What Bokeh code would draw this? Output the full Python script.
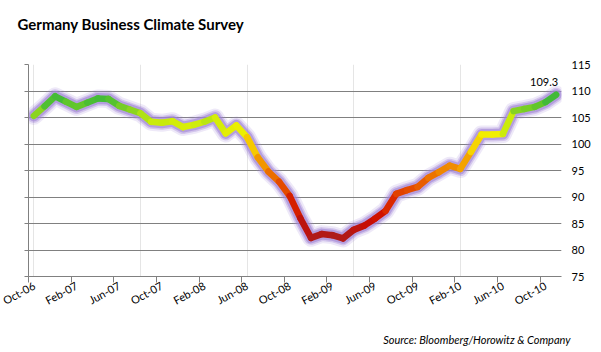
import pandas as pd
from bokeh.plotting import figure
from bokeh.models import LinearAxis, FixedTicker, Grid, Range1d, Title, ColumnDataSource
from bokeh.core.properties import value
from bokeh.embed import file_html
from bokeh.resources import INLINE

# ---- data ----
months = [p.strftime("%b-%y") for p in pd.period_range("2006-10", "2010-11", freq="M")]
ifo = [105.3, 107.1, 109.0,
       108.0, 107.0, 107.8, 108.6, 108.5, 107.2, 106.5, 105.8, 104.2, 104.0, 104.3, 103.2,
       103.6, 104.2, 105.0, 102.0, 103.5, 101.3, 97.5, 94.8, 92.9, 90.2, 86.0, 82.3,
       83.0, 82.8, 82.2, 83.8, 84.6, 85.9, 87.4, 90.6, 91.3, 91.9, 93.6, 94.7,
       95.9, 95.3, 98.5, 101.8, 101.8, 101.9, 106.2, 106.6, 107.0, 107.9, 109.3]
tick_labels = ["Oct-06", "Feb-07", "Jun-07", "Oct-07", "Feb-08", "Jun-08", "Oct-08",
               "Feb-09", "Jun-09", "Oct-09", "Feb-10", "Jun-10", "Oct-10"]
y_ticks = [75, 80, 85, 90, 95, 100, 105, 110, 115]
last_label = "109.3"
title_text = "Germany Business Climate Survey"
source_text = "Source: Bloomberg/Horowitz & Company"

x = list(range(len(ifo)))
x_lo, x_hi = -0.5, len(ifo) - 0.5

# colour scale by value
stops = [(82, (170, 30, 30)), (86, (204, 10, 0)), (90, (222, 50, 0)), (94, (236, 112, 0)),
         (97, (244, 165, 0)), (100, (246, 210, 0)), (102, (242, 240, 0)),
         (104, (205, 236, 10)), (106, (145, 215, 30)), (108, (80, 192, 48)), (109.5, (46, 178, 70))]

def col(v):
    if v <= stops[0][0]:
        c = stops[0][1]
    elif v >= stops[-1][0]:
        c = stops[-1][1]
    else:
        for (a, ca), (b, cb) in zip(stops[:-1], stops[1:]):
            if a <= v <= b:
                t = (v - a) / (b - a)
                c = tuple(ca[i] + (cb[i] - ca[i]) * t for i in range(3))
                break
    return "#%02x%02x%02x" % tuple(int(round(k)) for k in c)

seg = ColumnDataSource(dict(
    x0=x[:-1], y0=ifo[:-1], x1=x[1:], y1=ifo[1:],
    c=[col((a + b) / 2) for a, b in zip(ifo[:-1], ifo[1:])]))

FONT = "Lato"
GRID = "#808080"

p = figure(width=601, height=352, output_backend="svg", toolbar_location=None,
           x_range=Range1d(x_lo, x_hi), y_range=Range1d(75, 115),
           x_axis_location=None, y_axis_location=None,
           min_border_left=28, min_border_right=40, min_border_top=64, min_border_bottom=76,
           outline_line_color=None, background_fill_color="white", border_fill_color="white")

def spacer(size, at):
    # blank white axis used only to reserve space in a side panel
    return LinearAxis(ticker=FixedTicker(ticks=[at], minor_ticks=[]), axis_line_color=None,
                      major_tick_line_color="white", minor_tick_line_color=None,
                      major_tick_out=size, major_tick_in=0, minor_tick_out=0, minor_tick_in=0,
                      major_label_standoff=0, major_label_text_font_size="0px",
                      major_label_overrides={at: ""})

p.add_layout(spacer(25, x_hi), "above")

p.title.text = title_text
p.title.text_font = FONT
p.title.text_font_size = "15px"
p.title.text_font_style = "bold"
p.title.text_color = "#000000"
p.title.align = "left"
p.title.vertical_align = "top"
p.title.offset = -11
p.title.standoff = 10

p.add_layout(Grid(dimension=1, ticker=FixedTicker(ticks=y_ticks[1:]), grid_line_color=GRID, grid_line_width=1))

# left axis (ticks only)
la = LinearAxis(ticker=FixedTicker(ticks=y_ticks, minor_ticks=[]), major_label_text_font_size="0px",
                major_label_overrides={t: "" for t in y_ticks}, major_label_standoff=0,
                major_tick_out=4, major_tick_in=0, minor_tick_out=0, minor_tick_in=0,
                axis_line_color=GRID, major_tick_line_color=GRID)
p.add_layout(la, "left")

# right axis (labels)
ra = LinearAxis(ticker=FixedTicker(ticks=y_ticks, minor_ticks=[]), axis_line_color=None,
                major_tick_line_color=None, major_tick_out=0, major_tick_in=0,
                minor_tick_out=0, minor_tick_in=0, major_label_standoff=10,
                major_label_text_font=FONT, major_label_text_font_size="11px",
                major_label_text_color="#000000")
p.add_layout(ra, "right")

# bottom axis: tick marks at category boundaries
bt = [-0.5 + 4 * k for k in range(len(tick_labels))]
ba = LinearAxis(ticker=FixedTicker(ticks=bt, minor_ticks=[]), major_label_text_font_size="0px",
                major_label_overrides={t: "" for t in bt}, major_label_standoff=0,
                major_tick_out=6, major_tick_in=0, minor_tick_out=0, minor_tick_in=0,
                axis_line_color=GRID, major_tick_line_color=GRID)
p.add_layout(ba, "below")

# bottom labels at category centres
lt = [4 * k for k in range(len(tick_labels))]
bl = LinearAxis(ticker=FixedTicker(ticks=lt, minor_ticks=[]),
                major_label_overrides={t: s for t, s in zip(lt, tick_labels)},
                major_label_orientation=0.5, axis_line_color=None, major_tick_line_color=None,
                major_tick_out=0, major_tick_in=0, minor_tick_out=0, minor_tick_in=0,
                major_label_standoff=2, major_label_text_font=FONT,
                major_label_text_font_size="11px", major_label_text_color="#000000")
p.add_layout(bl, "below")

p.add_layout(spacer(12, x_lo), "below")

src = Title(text=source_text, align="right", text_font=FONT,
            text_font_size="11px", text_font_style="italic", text_color="#000000",
            offset=-9, standoff=6)
p.add_layout(src, "below")

# glow
for w, a in [(18, 0.18), (14, 0.35), (11, 0.6)]:
    p.line(x, ifo, line_width=w, line_color="#a084d6", line_alpha=a,
           line_join="round", line_cap="round")
# core gradient line
p.segment(x0="x0", y0="y0", x1="x1", y1="y1", source=seg, line_color="c",
          line_width=6.5, line_cap="round")

p.text(x=[x[-1]], y=[ifo[-1]], text=[last_label], x_offset=-12, y_offset=-9,
       text_align="center", text_baseline="bottom", text_font=value(FONT),
       text_font_size="11px", text_color="#000000")

open("out.html", "w").write(file_html(p, INLINE))
